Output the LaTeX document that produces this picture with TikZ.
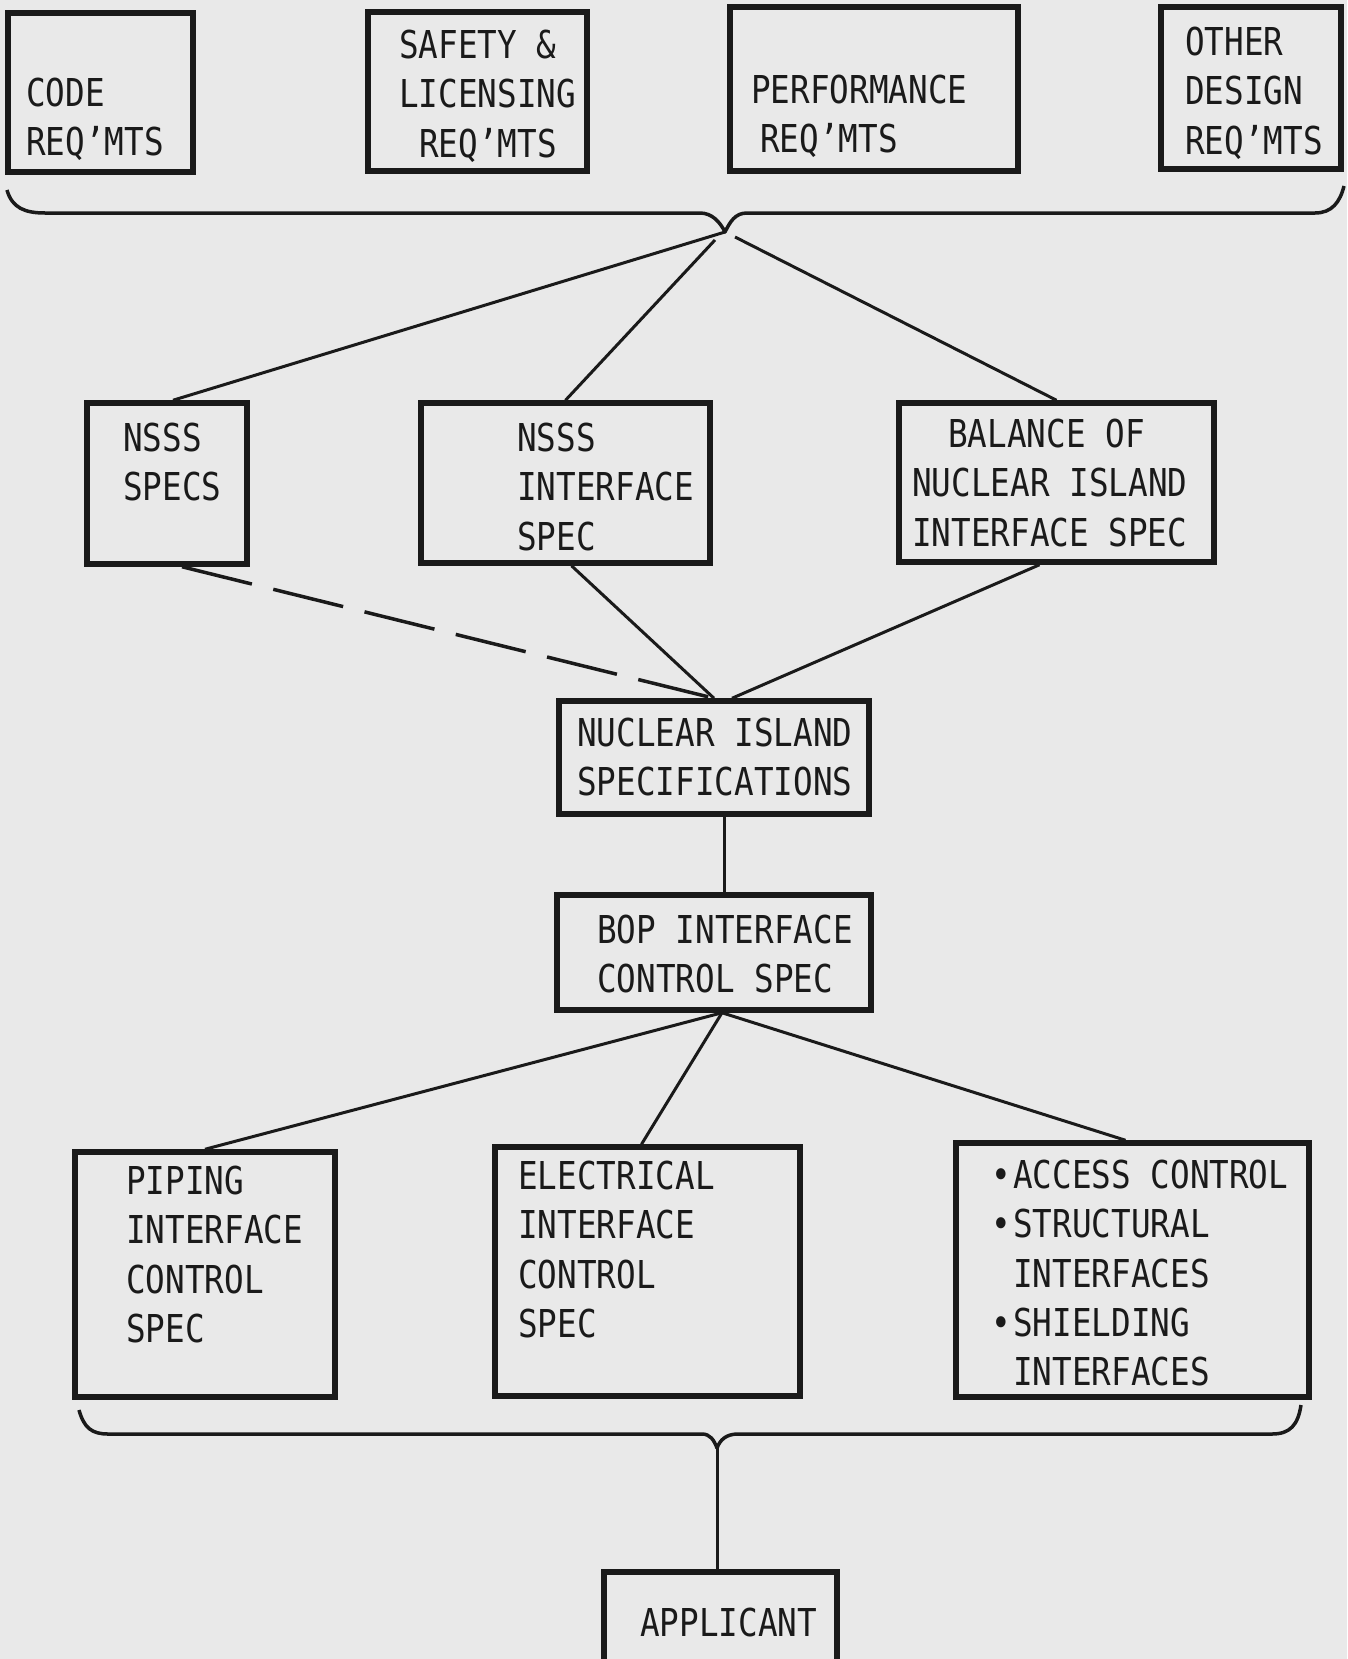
\documentclass[tikz,border=0pt]{standalone}
\usepackage{fontspec}
\newfontfamily\tw[FakeStretch=0.85]{DejaVu Sans Mono}
\definecolor{bg}{HTML}{E9E9E9}
\definecolor{ink}{HTML}{1A1A1A}
\begin{document}
\begin{tikzpicture}[x=1pt,y=-1pt,
  box/.style={draw=ink, line width=5.5pt, inner sep=0pt},
  conn/.style={draw=ink, line width=3pt},
  bracepath/.style={draw=ink, line width=3.5pt, line join=round},
  txt/.style={font=\tw\fontsize{38.4}{49.2}\selectfont, text=ink, anchor=north west, inner sep=0pt, align=left}]
\clip (0,0) rectangle (1347,1659);
\fill[bg] (0,0) rectangle (1347,1659);
% boxes
\node[box, minimum width=185pt, minimum height=159pt] (code) at (100.5,92.5) {};
\node[box, minimum width=219pt, minimum height=159pt] (safety) at (477.5,91.5) {};
\node[box, minimum width=288pt, minimum height=164pt] (perf) at (874,89) {};
\node[box, minimum width=180pt, minimum height=162pt] (other) at (1251,88) {};
\node[box, minimum width=160pt, minimum height=161pt] (nsss) at (167,483.5) {};
\node[box, minimum width=289pt, minimum height=160pt] (nsssif) at (565.5,483) {};
\node[box, minimum width=315pt, minimum height=159pt] (bal) at (1056.5,482.5) {};
\node[box, minimum width=310pt, minimum height=113pt] (ni) at (714,757.5) {};
\node[box, minimum width=314pt, minimum height=115pt] (bop) at (714,952.5) {};
\node[box, minimum width=260pt, minimum height=245pt] (pip) at (205,1274.5) {};
\node[box, minimum width=305pt, minimum height=249pt] (elec) at (647.5,1271.5) {};
\node[box, minimum width=353pt, minimum height=254pt] (rbox) at (1132.5,1270) {};
\node[box, minimum width=233pt, minimum height=108pt] (app) at (720.5,1626) {};
% texts
\node[txt] (codet) at (26,78) {CODE\\REQ’MTS};
\node[txt] (safet) at (399,30) {SAFETY \&\\LICENSING\\\hspace*{20pt}REQ’MTS};
\node[txt] (perft) at (751,75) {PERFORMANCE\\\hspace*{9pt}REQ’MTS};
\node[txt] (othert) at (1185,27) {OTHER\\DESIGN\\REQ’MTS};
\node[txt] (nssst) at (123,423) {NSSS\\SPECS};
\node[txt] (nsssift) at (517,423) {NSSS\\INTERFACE\\SPEC};
\node[txt] (balt) at (912,419) {\hspace*{36pt}BALANCE OF\\NUCLEAR ISLAND\\INTERFACE SPEC};
\node[txt] (nit) at (577,718) {NUCLEAR ISLAND\\SPECIFICATIONS};
\node[txt] (bopt) at (597,915) {BOP INTERFACE\\CONTROL SPEC};
\node[txt] (pipt) at (126,1166) {PIPING\\INTERFACE\\CONTROL\\SPEC};
\node[txt] (elect) at (518,1161) {ELECTRICAL\\INTERFACE\\CONTROL\\SPEC};
\node[txt] (rboxt) at (1013,1160) {\llap{•\hspace{2pt}}ACCESS CONTROL\\\llap{•\hspace{2pt}}STRUCTURAL\\INTERFACES\\\llap{•\hspace{2pt}}SHIELDING\\INTERFACES};
\node[txt] (appt) at (640,1608) {APPLICANT};
% braces
\coordinate (tc) at (725,232);
\coordinate (bc) at (717,1448);
\draw[bracepath] (7,190) .. controls (12,208) and (25,213) .. (45,213) -- (700,213)
  .. controls (712,213) and (720,222) .. (tc)
  .. controls (730,222) and (735,213) .. (747,213) -- (1315,213)
  .. controls (1332,213) and (1340,202) .. (1344,186);
\draw[bracepath] (79,1410) .. controls (84,1428) and (92,1434) .. (108,1434) -- (702,1434)
  .. controls (710,1434) and (714,1440) .. (bc)
  .. controls (720,1440) and (726,1434) .. (738,1434) -- (1272,1434)
  .. controls (1290,1434) and (1298,1425) .. (1301,1405);
% connectors
\draw[conn] (tc) -- ([xshift=6pt]nsss.north);
\draw[conn] ([xshift=-10pt,yshift=-8pt]tc) -- (nsssif.north);
\draw[conn] ([xshift=10pt,yshift=-5pt]tc) -- (bal.north);
\draw[conn, line width=3.5pt, dash pattern=on 72pt off 22pt] ([xshift=15pt]nsss.south) -- (ni.north);
\draw[conn] ([xshift=6pt]nsssif.south) -- (ni.north);
\draw[conn] ([xshift=-17pt]bal.south) -- ([xshift=18pt]ni.north);
\draw[conn] ([xshift=10pt]ni.south) -- ([xshift=10pt]bop.north);
\coordinate (bb) at ([xshift=8pt]bop.south);
\draw[conn] (bb) -- (pip.north);
\draw[conn] (bb) -- ([xshift=-6pt]elec.north);
\draw[conn] (bb) -- ([xshift=-7pt]rbox.north);
\draw[conn] (bc) -- (bc |- app.north);
\end{tikzpicture}
\end{document}
